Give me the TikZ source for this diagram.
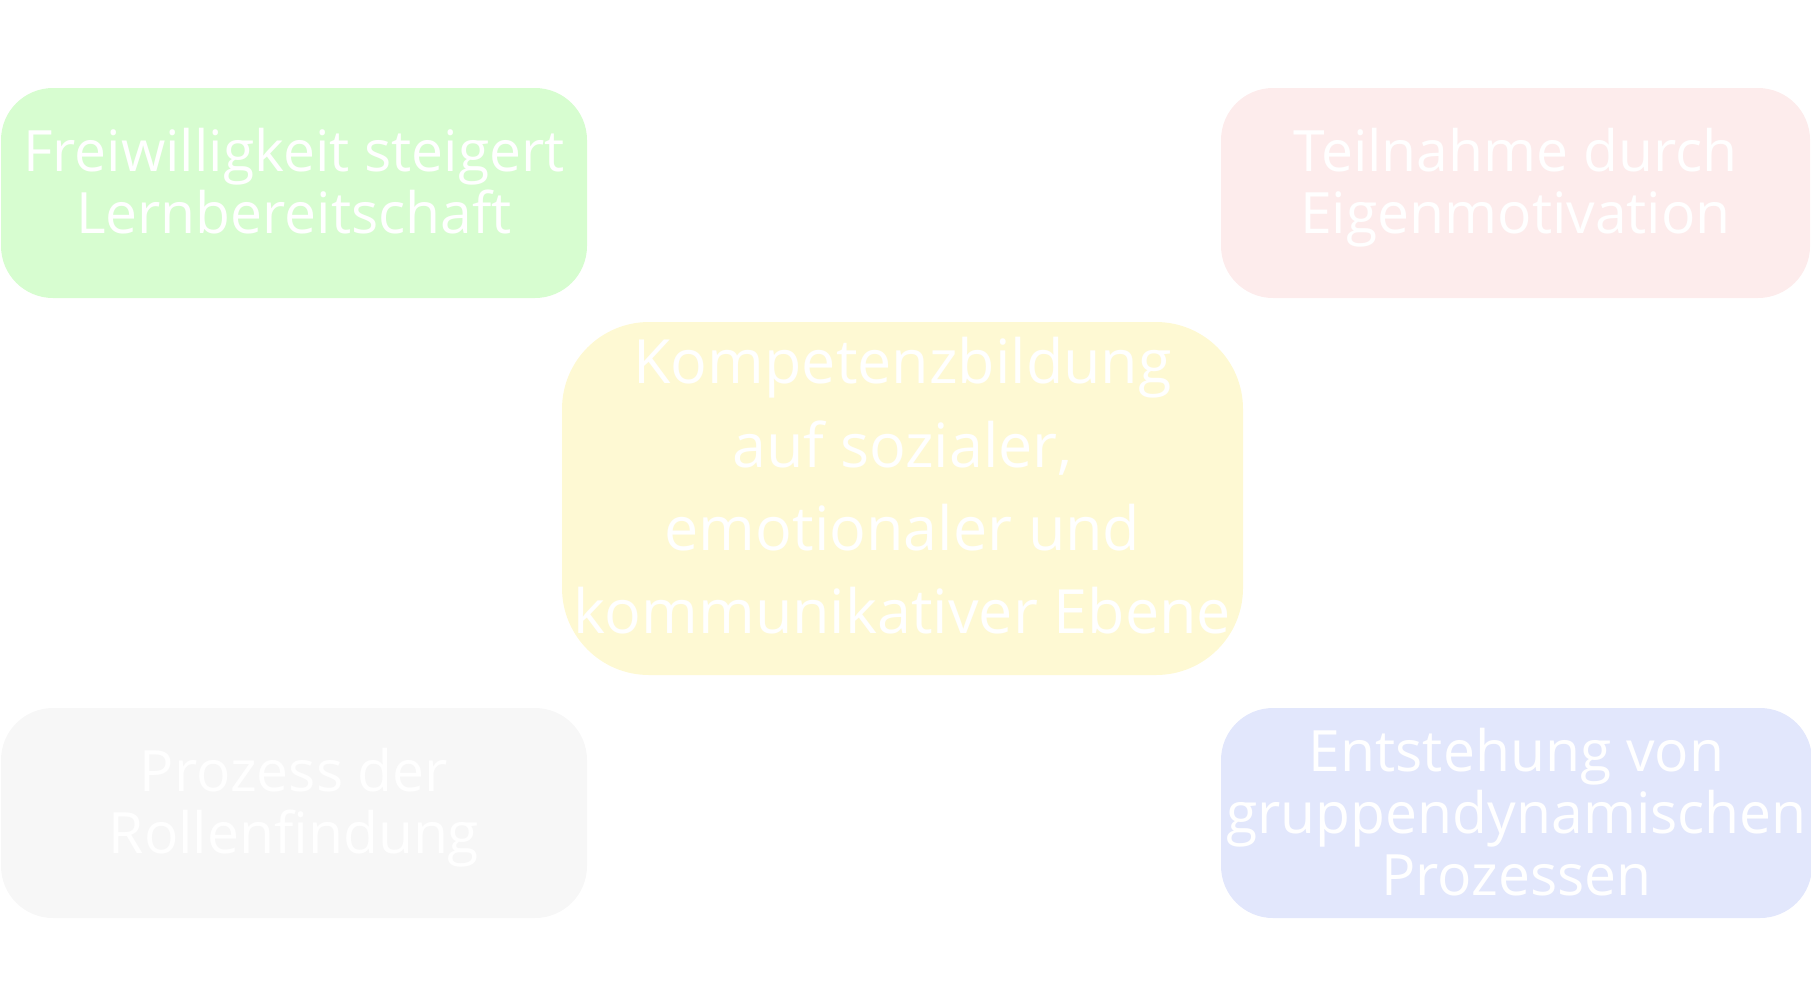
\documentclass[tikz,border=0pt]{standalone}
\usepackage{fontspec}
\setmainfont{Open Sans}
\definecolor{cgreen}{HTML}{D7FDD0}
\definecolor{cpink}{HTML}{FDECEC}
\definecolor{cyellow}{HTML}{FEF9D3}
\definecolor{cgray}{HTML}{F7F7F7}
\definecolor{cblue}{HTML}{E2E7FC}
\begin{document}
\begin{tikzpicture}[x=1pt,y=-1pt,
  cornerbox/.style={rectangle, rounded corners=52pt, draw=none, text=white,
    minimum height=210pt, inner sep=0pt, align=center,
    font=\fontsize{57}{62}\selectfont},
  twoline/.style={text height=102pt, text depth=22pt},
  threeline/.style={text height=175.4pt, text depth=10pt},
  centerbox/.style={rectangle, rounded corners=87pt, draw=none, text=white,
    minimum width=681pt, minimum height=353pt, inner sep=0pt, align=center,
    font=\fontsize{61}{83.3}\selectfont, text height=294pt, text depth=23.6pt}]
\useasboundingbox (0,0) rectangle (1811,997);
\node[cornerbox, twoline, fill=cgreen, minimum width=586pt] (frei) at (294,193)
  {Freiwilligkeit steigert\\Lernbereitschaft};
\node[cornerbox, twoline, fill=cpink, minimum width=589pt] (teil) at (1515.5,193)
  {Teilnahme durch\\Eigenmotivation};
\node[centerbox, fill=cyellow] (komp) at (902.5,498.5)
  {Kompetenzbildung\\auf sozialer,\\emotionaler und\\kommunikativer Ebene};
\node[cornerbox, twoline, fill=cgray, minimum width=586pt] (proz) at (294,813)
  {Prozess der\\Rollenfindung};
\node[cornerbox, threeline, fill=cblue, minimum width=591pt] (ents) at (1516.5,813)
  {Entstehung von\\gruppendynamischen\\Prozessen};
\end{tikzpicture}
\end{document}
